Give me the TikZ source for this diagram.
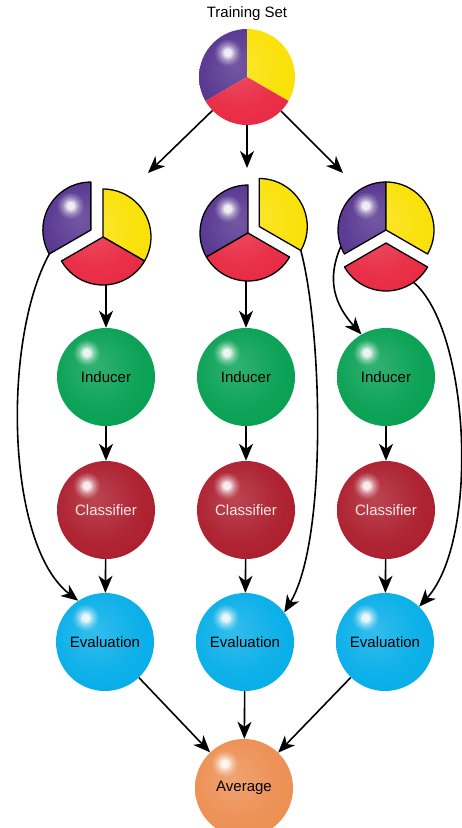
\documentclass[tikz,border=0pt]{standalone}
\usepackage{fontspec}
\setmainfont{Liberation Sans}
\usetikzlibrary{arrows.meta,calc}

\definecolor{cPU}{RGB}{80,46,140}
\definecolor{cYE}{RGB}{250,224,0}
\definecolor{cRE}{RGB}{232,36,62}
\definecolor{cGR}{RGB}{0,158,78}
\definecolor{cCR}{RGB}{170,24,40}
\definecolor{cBL}{RGB}{0,172,232}
\definecolor{cOR}{RGB}{236,140,78}
\definecolor{cTX}{RGB}{246,232,232}

\newcommand\declsphere[1]{\pgfdeclareradialshading{sh#1}{\pgfpoint{-6bp}{6bp}}{color(0bp)=(c#1!80!white); color(20bp)=(c#1!94!white); color(38bp)=(c#1); color(50bp)=(c#1!86!black); color(58bp)=(c#1!78!black)}}
\declsphere{PU}\declsphere{YE}\declsphere{RE}\declsphere{GR}\declsphere{CR}\declsphere{BL}\declsphere{OR}

\newcommand\glow[1]{%
 \foreach \rr/\oo in {13/0.10,11/0.14,9/0.2,7/0.3,5.5/0.45,4/0.6}{\fill[white,opacity=\oo] #1 circle[radius=\rr pt];}}

\newcommand\pwedge[5]{%
 \begin{scope}
  \clip (#1) -- ++(#2:48) arc[start angle=#2,end angle=#3,radius=48] -- cycle;
  \shade[shading=sh#4] (#1) circle[radius=48];
 \end{scope}
 \path[#5] (#1) -- ++(#2:48) arc[start angle=#2,end angle=#3,radius=48] -- cycle;}

\tikzset{
  lab/.style={font=\fontsize{15}{18}\selectfont},
  ball/.style={circle, minimum size=98pt, inner sep=0pt, shade, shading=sh#1, lab,
    path picture={\glow{([shift={(-19pt,24pt)}]path picture bounding box.center)}}},
  arr/.style={-{Stealth[length=17pt,width=14pt,inset=5pt]}, line width=1.6pt},
  pout/.style={draw=black, line width=1.3pt, line join=round},
  pnone/.style={}
}

\begin{document}
\begin{tikzpicture}[x=1pt,y=1pt]
\useasboundingbox (0,0) rectangle (461,-828);

% ---- top pie
\node[lab] (tlabel) at (247,-14) {Training Set};
\coordinate (TS) at (247,-77);
\pwedge{TS}{90}{210}{PU}{pnone}
\pwedge{TS}{-30}{90}{YE}{pnone}
\pwedge{TS}{210}{330}{RE}{pnone}
\glow{($(TS)+(-19,24)$)}
\node[circle, minimum size=96pt, inner sep=0pt] (ts) at (TS) {};

% ---- left split pie (purple out)
\coordinate (GL) at (103,-237);
\coordinate (PL) at ($(GL)+(150:14)$);
\pwedge{GL}{-30}{90}{YE}{pout}
\pwedge{GL}{210}{330}{RE}{pout}
\pwedge{PL}{90}{210}{PU}{pout}
\glow{($(PL)+(-20,24)$)}

% ---- middle split pie (yellow out)
\coordinate (GM) at (248,-233);
\coordinate (YM) at ($(GM)+(30:13)$);
\pwedge{GM}{90}{210}{PU}{pout}
\pwedge{GM}{210}{330}{RE}{pout}
\pwedge{YM}{-30}{90}{YE}{pout}
\glow{($(GM)+(-20,24)$)}

% ---- right split pie (red out)
\coordinate (GR) at (386,-230);
\coordinate (RR) at (386,-243);
\pwedge{GR}{90}{210}{PU}{pout}
\pwedge{GR}{-30}{90}{YE}{pout}
\pwedge{RR}{210}{330}{RE}{pout}
\glow{($(GR)+(-20,24)$)}

% ---- spheres
\node[ball=GR] (ind1) at (106,-377) {Inducer};
\node[ball=GR] (ind2) at (246,-377) {Inducer};
\node[ball=GR] (ind3) at (386,-377) {Inducer};
\node[ball=CR, text=cTX] (cls1) at (106,-510) {Classifier};
\node[ball=CR, text=cTX] (cls2) at (246,-510) {Classifier};
\node[ball=CR, text=cTX] (cls3) at (386,-510) {Classifier};
\node[ball=BL] (ev1) at (105,-642) {Evaluation};
\node[ball=BL] (ev2) at (245,-642) {Evaluation};
\node[ball=BL] (ev3) at (385,-642) {Evaluation};
\node[ball=OR] (avg) at (244,-788) {\raisebox{3pt}{Average}};

% ---- connector end points
\coordinate (t1) at (148,-173);
\coordinate (t2) at (247,-168);
\coordinate (t3) at (343,-173);
\coordinate (p1out) at (106,-285);
\coordinate (p2out) at (246,-281);
\coordinate (p1c) at ($(PL)+(210:48)$);
\coordinate (p2c) at ($(YM)+(-30:48)$);
\coordinate (p3a) at ($(GR)+(200:48)$);
\coordinate (p3b) at ($(RR)+(305:48)$);

% ---- connectors
\draw[arr] (ts) -- (t1);
\draw[arr] (ts) -- (t2);
\draw[arr] (ts) -- (t3);
\draw[arr] (p1out) -- (ind1);
\draw[arr] (p2out) -- (ind2);
\draw[arr] (p3a) .. controls (326,-280) and (335,-305) .. (ind3.120);
\draw[arr] (p1c) .. controls (2,-340) and (6,-545) .. (ev1.123);
\draw[arr] (p2c) .. controls (322,-330) and (328,-540) .. (ev2.37);
\draw[arr] (p3b) .. controls (470,-330) and (480,-540) .. (ev3.46);
\foreach \i in {1,2,3}{
  \draw[arr] (ind\i) -- (cls\i);
  \draw[arr] (cls\i) -- (ev\i);
}
\draw[arr] (ev1) -- (avg);
\draw[arr] (ev2) -- (avg);
\draw[arr] (ev3) -- (avg);
\end{tikzpicture}
\end{document}
